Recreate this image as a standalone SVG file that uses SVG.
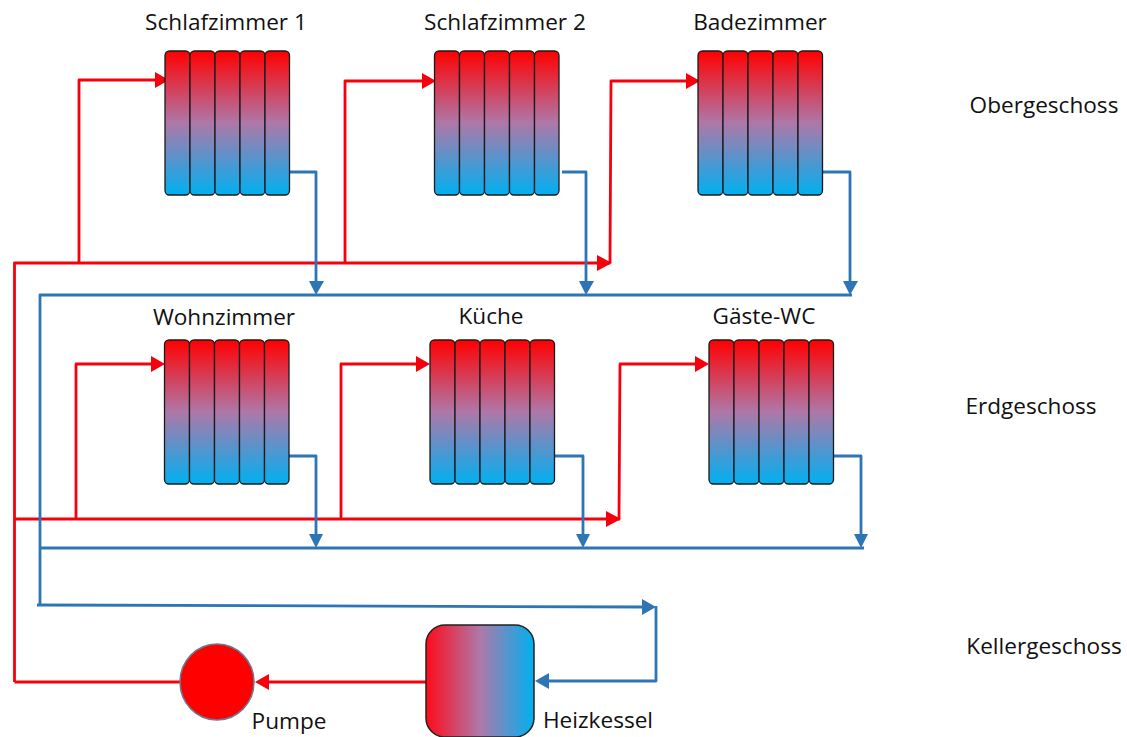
<svg xmlns="http://www.w3.org/2000/svg" xmlns:xlink="http://www.w3.org/1999/xlink" width="1127" height="737" viewBox="0 0 1127 737">
<style>
text{font-family:"Open Sans","Noto Sans",sans-serif;font-size:22.6px;fill:#111;text-anchor:middle}
.seg{fill:url(#v);stroke:#1a1a1a;stroke-width:1.3}
.r,.b{fill:none;stroke-linejoin:round}
.r{stroke:#f5000c;stroke-width:2.800}
.b{stroke:#2e75b6;stroke-width:2.800}
.ra{fill:#f5000c}.ba{fill:#2e75b6}
</style>
<defs>
<linearGradient id="v" x1="0" y1="0" x2="0" y2="1"><stop offset="0" stop-color="#ff0000"/><stop offset="0.5" stop-color="#ae78a8"/><stop offset="1" stop-color="#00b0f0"/></linearGradient>
<linearGradient id="h" x1="0" y1="0" x2="1" y2="0"><stop offset="0" stop-color="#ff0a1a"/><stop offset="0.5" stop-color="#ae78a8"/><stop offset="1" stop-color="#00b0f0"/></linearGradient>
<g id="rad">
<rect class="seg" x="0" y="0" width="25" height="144" rx="4.5"/>
<rect class="seg" x="25" y="0" width="25" height="144" rx="4.5"/>
<rect class="seg" x="50" y="0" width="25" height="144" rx="4.5"/>
<rect class="seg" x="75" y="0" width="25" height="144" rx="4.5"/>
<rect class="seg" x="100" y="0" width="24.500" height="144" rx="4.500"/>
</g>
</defs>
<rect width="1127" height="737" fill="#fff"/>
<g id="connectors">
<path class="r" d="M14.500 682V263H610"/>
<path class="r" d="M79 263V80H155"/>
<path class="r" d="M345 263V81H423"/>
<path class="r" d="M610 263L611 81H688"/>
<path class="r" d="M14.500 519H620"/>
<path class="r" d="M76 519V364H154"/>
<path class="r" d="M341 519V364H419"/>
<path class="r" d="M619 519L620 364H698"/>
<path class="r" d="M180 682H14.500"/>
<path class="r" d="M426 682H266"/>
<path class="b" d="M289 172H316V284"/>
<path class="b" d="M562 172H586V284"/>
<path class="b" d="M823 172H850V284"/>
<path class="b" d="M40 606V295H852"/>
<path class="b" d="M289 456H316V537"/>
<path class="b" d="M554 456H583V537"/>
<path class="b" d="M834 456H861V537"/>
<path class="b" d="M40 548H864"/>
<path class="b" d="M37 605L646 607"/>
<path class="b" d="M656 606V681H546"/>
<g class="ra">
<path d="M155 72L169 80L155 88Z"/><path d="M422 73L436 81L422 89Z"/><path d="M686 73L700 81L686 89Z"/>
<path d="M151 356L165 364L151 372Z"/><path d="M416 356L430 364L416 372Z"/><path d="M695 356L709 364L695 372Z"/>
<path d="M597 255L612 263L597 271Z"/><path d="M606 511L621 519L606 527Z"/>
<path d="M269 674L255 682L269 690Z"/>
</g>
<g class="ba">
<path d="M309 281H324L316 295Z"/><path d="M579 281H594L586 295Z"/><path d="M843 281H858L850 295Z"/>
<path d="M309 534H323L316 548Z"/><path d="M576 534H590L583 548Z"/><path d="M854 534H868L861 548Z"/>
<path d="M642 599L656 607L642 615Z"/><path d="M549 673L535 681L549 689Z"/>
</g>
</g>
<g id="schlafzimmer1"><use xlink:href="#rad" href="#rad" x="165" y="51"/><text x="226" y="30">Schlafzimmer 1</text></g>
<g id="schlafzimmer2"><use xlink:href="#rad" href="#rad" x="434.500" y="51"/><text x="505" y="30">Schlafzimmer 2</text></g>
<g id="badezimmer"><use xlink:href="#rad" href="#rad" x="698" y="51"/><text x="760" y="30">Badezimmer</text></g>
<g id="wohnzimmer"><use xlink:href="#rad" href="#rad" x="164.500" y="340"/><text x="224" y="325">Wohnzimmer</text></g>
<g id="kueche"><use xlink:href="#rad" href="#rad" x="430" y="340"/><text x="491" y="324">Küche</text></g>
<g id="gaeste-wc"><use xlink:href="#rad" href="#rad" x="709" y="340"/><text x="764" y="324">Gäste-WC</text></g>
<g id="pumpe"><ellipse cx="217" cy="682" rx="37" ry="38" fill="#ff0000" stroke="#6a7a90" stroke-width="1.500"/><text x="289" y="729">Pumpe</text></g>
<g id="heizkessel"><rect x="426" y="625" width="108" height="112" rx="19" fill="url(#h)" stroke="#222" stroke-width="1.500"/><text x="598" y="728">Heizkessel</text></g>
<text x="1044" y="113">Obergeschoss</text>
<text x="1031" y="414">Erdgeschoss</text>
<text x="1044" y="654">Kellergeschoss</text>
</svg>
